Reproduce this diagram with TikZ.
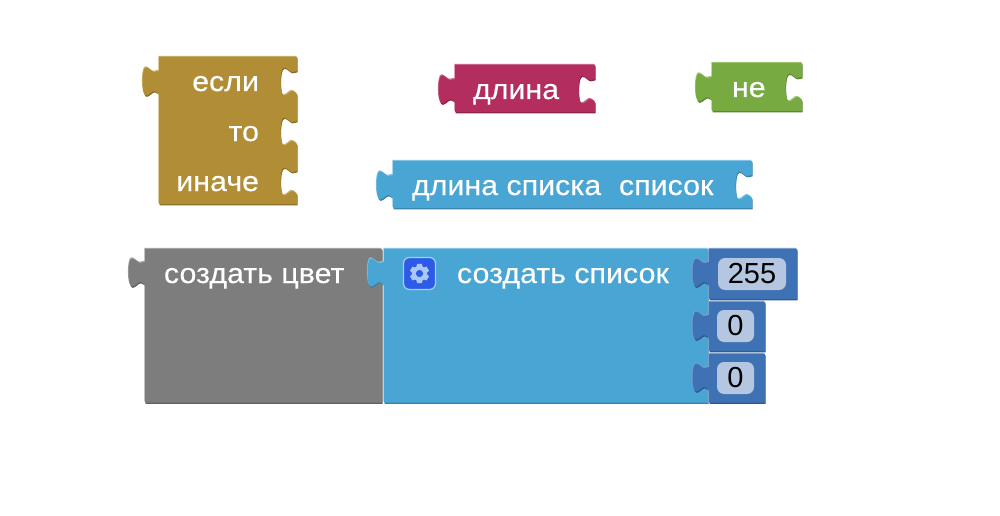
\documentclass[tikz,border=0pt]{standalone}
\usepackage{fontspec}
\setmainfont{Liberation Sans}
\newfontfamily\widefont[FakeStretch=1.085,FakeBold=0.25]{Liberation Sans}
\definecolor{ctrl}{HTML}{B18E35}\definecolor{ctrlD}{HTML}{8A6E29}\definecolor{ctrlL}{HTML}{C9B06F}
\definecolor{txt}{HTML}{B32D5E}\definecolor{txtD}{HTML}{8C2349}\definecolor{txtL}{HTML}{CC6C8F}
\definecolor{logic}{HTML}{77AB41}\definecolor{logicD}{HTML}{5D8533}\definecolor{logicL}{HTML}{A2C67C}
\definecolor{lst}{HTML}{49A6D4}\definecolor{lstD}{HTML}{3981A5}\definecolor{lstL}{HTML}{83C3E3}
\definecolor{clr}{HTML}{7D7D7D}\definecolor{clrD}{HTML}{616161}\definecolor{clrL}{HTML}{A3A3A3}
\definecolor{num}{HTML}{3F71B5}\definecolor{numD}{HTML}{31588D}\definecolor{numL}{HTML}{7C9DCB}
\definecolor{fieldbg}{HTML}{B5C7E0}
\definecolor{gearbg}{HTML}{2D5BE8}\definecolor{gearfg}{HTML}{A9C8F5}\definecolor{gearedge}{HTML}{A5CDEE}
% left tab: edge x, reference y; path runs bottom to top
\newcommand\tabL[2]{
 -- (#1,{#2+25}) .. controls ({#1-2},{#2+23.5}) and ({#1-3},{#2+22}) .. ({#1-5},{#2+22})
 .. controls ({#1-7},{#2+22}) and ({#1-10},{#2+26.5}) .. ({#1-13},{#2+26.5})
 .. controls ({#1-15.5},{#2+26.5}) and ({#1-16.5},{#2+19}) .. ({#1-16.5},{#2+12.5})
 .. controls ({#1-16.5},{#2+6}) and ({#1-15.5},{#2-1.5}) .. ({#1-13},{#2-1.5})
 .. controls ({#1-10},{#2-1.5}) and ({#1-7},{#2+3}) .. ({#1-5},{#2+3})
 .. controls ({#1-3},{#2+3}) and ({#1-2},{#2+2}) .. (#1,{#2+2}) }
% right notch: edge x, reference y; path runs top to bottom
\newcommand\notchR[2]{
 -- (#1,{#2+2}) .. controls ({#1-2},{#2+2}) and ({#1-3},{#2+3}) .. ({#1-5},{#2+3})
 .. controls ({#1-7},{#2+3}) and ({#1-10},{#2-1.5}) .. ({#1-13},{#2-1.5})
 .. controls ({#1-15.5},{#2-1.5}) and ({#1-16.5},{#2+6}) .. ({#1-16.5},{#2+12.5})
 .. controls ({#1-16.5},{#2+19}) and ({#1-15.5},{#2+26.5}) .. ({#1-13},{#2+26.5})
 .. controls ({#1-10},{#2+26.5}) and ({#1-7},{#2+22}) .. ({#1-5},{#2+22})
 .. controls ({#1-3},{#2+22}) and ({#1-2},{#2+23.5}) .. (#1,{#2+25}) }
% block: #1 colour prefix, #2 path
\newcommand\blockshape[2]{
 \fill[#1D,xshift=0.6pt,yshift=-1.4pt] #2;
 \fill[#1L,xshift=-0.6pt,yshift=1.2pt] #2;
 \fill[#1] #2;
}
\tikzset{
 lab/.style={anchor=base west,inner sep=0pt,outer sep=0pt,text=white,font=\widefont\fontsize{28}{28}\selectfont},
 labr/.style={lab,anchor=base east},
 numlab/.style={anchor=base,inner sep=0pt,text=black,font=\fontsize{29}{29}\selectfont},
 field/.style={fill=fieldbg,rounded corners=7pt},
}
\begin{document}
\begin{tikzpicture}[x=1pt,y=-1pt]
\useasboundingbox[fill=white] (0,0) rectangle (1000,516);
% if block
\blockshape{ctrl}{(159,57) -- (297,57) \notchR{297}{69} \notchR{297}{119} \notchR{297}{169} -- (297,204) -- (159,204) \tabL{159}{69} -- cycle}
\node[labr] (esli) at (259,91) {если};
\node[labr] (to) at (259,141) {то};
\node[labr] (inache) at (259,191) {иначе};
% length
\blockshape{txt}{(455,65) -- (595,65) \notchR{595}{77} -- (595,112) -- (455,112) \tabL{455}{77} -- cycle}
\node[lab] (dlina) at (473,99) {длина};
% not
\blockshape{logic}{(712,63) -- (802,63) \notchR{802}{75} -- (802,111) -- (712,111) \tabL{712}{75} -- cycle}
\node[lab] (ne) at (732,97) {не};
% list length
\blockshape{lst}{(393,161) -- (752,161) \notchR{752}{173} -- (752,208) -- (393,208) \tabL{393}{173} -- cycle}
\node[lab] (dlinaspiska) at (412,195) {длина списка};
\node[lab] (spisok) at (619,195) {список};
% make colour
\blockshape{clr}{(145,249) -- (382,249) -- (382,402.5) -- (145,402.5) \tabL{145}{260} -- cycle}
\node[lab] (cvet) at (164,283) {создать цвет};
% make list
\blockshape{lst}{(384,249) -- (708,249) -- (708,402.5) -- (384,402.5) \tabL{384}{260} -- cycle}
\node[lab] (sozdspisok) at (457,283) {создать список};
% gear
\draw[fill=gearbg,draw=gearedge,line width=1.2pt,rounded corners=6pt] (403.5,257.5) rectangle (435.5,289.5);
\begin{scope}[shift={(419.5,273.5)}]
 \foreach \a in {0,60,...,300}
  \fill[gearfg,rotate=\a] (-3.4,-5) -- (-2.4,-9.6) -- (2.4,-9.6) -- (3.4,-5) -- cycle;
 \fill[gearfg] (0,0) circle[radius=7.6pt];
 \fill[gearbg] (0,0) circle[radius=3.6pt];
\end{scope}
% numbers
\blockshape{num}{(709,249) -- (797,249) -- (797,299) -- (709,299) \tabL{709}{260} -- cycle}
\blockshape{num}{(709,302) -- (765,302) -- (765,351) -- (709,351) \tabL{709}{313} -- cycle}
\blockshape{num}{(709,354) -- (765,354) -- (765,402.5) -- (709,402.5) \tabL{709}{365} -- cycle}
\fill[field] (718,258) rectangle (786,290);
\fill[field] (717,310) rectangle (754,342);
\fill[field] (717,362) rectangle (754,394);
\node[numlab] (n255) at (752,283) {255};
\node[numlab] (n0a) at (735.5,335) {0};
\node[numlab] (n0b) at (735.5,387) {0};
\end{tikzpicture}
\end{document}
